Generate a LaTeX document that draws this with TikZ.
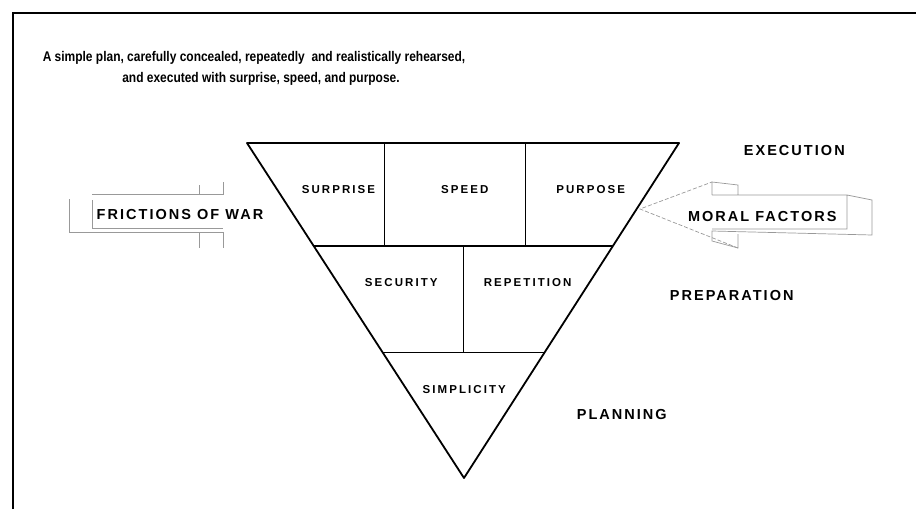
\documentclass[tikz,border=0pt]{standalone}
\usepackage{fontspec}
\setmainfont{Liberation Sans}
\usetikzlibrary{calc}

\tikzset{
	heading/.style={font=\fontsize{14}{16}\selectfont\bfseries, xscale=0.855, inner sep=0pt},
	cell/.style={font=\fontsize{11.5}{13}\selectfont\bfseries\addfontfeatures{LetterSpace=18}, inner sep=0pt},
	phase/.style={font=\fontsize{14.5}{16}\selectfont\bfseries\addfontfeatures{LetterSpace=14}, inner sep=0pt},
	ghost/.style={draw=black!40, line width=0.7pt},
	ghosthead/.style={ghost, dashed, dash pattern=on 4pt off 2pt}
}

\begin{document}
\begin{tikzpicture}[x=1pt,y=-1pt]
	\useasboundingbox (0,0) rectangle (916,509);
	% frame
	\draw[line width=2pt] (12.5,509) -- (12.5,12.5) -- (916,12.5);
	% heading
	\node[heading] (line1) at (254,58) {A simple plan, carefully concealed, repeatedly\ \ and realistically rehearsed,};
	\node[heading] (line2) at (261,79) {and executed with surprise, speed, and purpose.};
	% triangle
	\coordinate (tl) at (247,143);
	\coordinate (tr) at (679,143);
	\coordinate (apex) at (464,478);
	\draw[line width=1.8pt, line join=round] (tl) -- (tr) -- (apex) -- cycle;
	\draw[line width=1.2pt]
		($(tl)!0.3075!(apex)$) -- ($(tr)!0.3075!(apex)$)
		($(tl)!0.626!(apex)$) -- ($(tr)!0.626!(apex)$)
		(384.5,143) -- (384.5,246)
		(525.7,143) -- (525.7,246)
		(463.5,246) -- (463.5,352.7);
	\node[cell] (surprise) at (338.5,190) {SURPRISE};
	\node[cell] (speed) at (464.7,190) {SPEED};
	\node[cell] (purpose) at (590.7,190) {PURPOSE};
	\node[cell] (security) at (401.3,282.7) {SECURITY};
	\node[cell] (repetition) at (527.7,282.7) {REPETITION};
	\node[cell] (simplicity) at (464.3,389.3) {SIMPLICITY};
	% phases
	\node[phase] (execution) at (794.3,150.7) {EXECUTION};
	\node[phase] (preparation) at (731.7,295.7) {PREPARATION};
	\node[phase] (planning) at (621.8,414.3) {PLANNING};
	% left arrow
	\draw[ghost]
		(92,200) -- (92,228) -- (223,228)
		(92,194) -- (223,194) -- (223,181.7)
		(199,194) -- (199,185)
		(69.5,199) -- (69.5,232) -- (223,232) -- (223,248)
		(199,232) -- (199,248);
	\node[phase] (frictions) at (180,215) {FRICTIONS OF WAR};
	% right arrow
	\draw[ghosthead] (738,248) -- (640,209) -- (712,182);
	\draw[ghost]
		(712,195) -- (712,182) -- (738,185) -- (738,195)
		(712,195) -- (847,195) -- (872,200) -- (872,235) -- (712,231) -- (712,241) -- (738,248) -- (738,234)
		(847,195) -- (847,229) -- (712,229);
	\node[phase] (moral) at (762.3,216.7) {MORAL FACTORS};
\end{tikzpicture}
\end{document}
